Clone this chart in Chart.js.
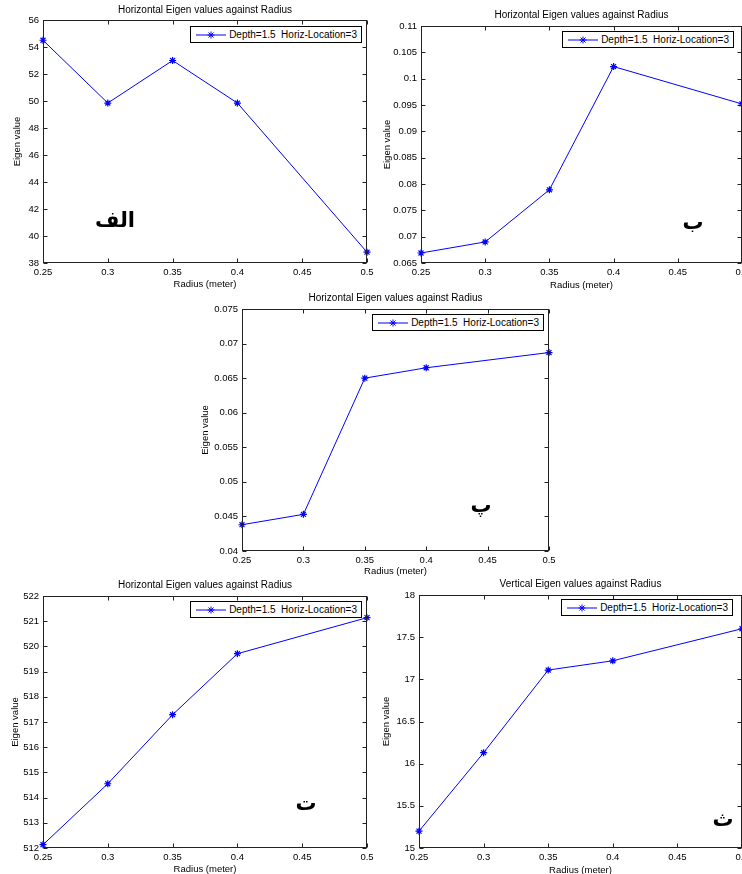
<!DOCTYPE html>
<html><head><meta charset="utf-8">
<script src="https://cdn.jsdelivr.net/npm/chart.js@4.4.1/dist/chart.umd.min.js"></script>
<style>
html,body{margin:0;padding:0;background:#fff;overflow:hidden;width:742px;height:874px;position:relative;}
canvas{position:absolute;}
.legend{position:absolute;height:17px;border:1px solid #000;background:#fff;display:flex;align-items:center;font:10px "Liberation Sans",Arial,sans-serif;white-space:pre;color:#000;box-sizing:border-box;padding-right:4px;}
.legend svg{margin-left:5px;margin-right:3px;}
.ar{position:absolute;font:bold 21px "DejaVu Sans",sans-serif;transform:translate(-50%,-50%);direction:rtl;color:#000;line-height:1;}
</style></head><body>
<script>
// ---- data ----
const radius = [0.25, 0.3, 0.35, 0.4, 0.5];
const xTicks = [0.25, 0.3, 0.35, 0.4, 0.45, 0.5];
const seriesLabel = 'Depth=1.5  Horiz-Location=3';
const xTitle = 'Radius (meter)';
const yTitle = 'Eigen value';
const titleH = 'Horizontal Eigen values against Radius';
const titleV = 'Vertical Eigen values against Radius';

const valuesAlef = [54.5, 49.85, 53.0, 49.85, 38.8];
const valuesBe   = [0.0669, 0.0690, 0.0789, 0.1023, 0.0952];
const valuesPe   = [0.0438, 0.0453, 0.0650, 0.0665, 0.0687];
const valuesTe   = [512.13, 514.55, 517.29, 519.71, 521.14];
const valuesSe   = [15.2, 16.13, 17.11, 17.22, 17.6];

const yTicksAlef = [38, 40, 42, 44, 46, 48, 50, 52, 54, 56];
const yTicksBe   = [0.065, 0.07, 0.075, 0.08, 0.085, 0.09, 0.095, 0.1, 0.105, 0.11];
const yTicksPe   = [0.04, 0.045, 0.05, 0.055, 0.06, 0.065, 0.07, 0.075];
const yTicksTe   = [512, 513, 514, 515, 516, 517, 518, 519, 520, 521, 522];
const yTicksSe   = [15, 15.5, 16, 16.5, 17, 17.5, 18];

const panelLetters = ['الف', 'ب', 'پ', 'ت', 'ث'];

// ---- layout (positions/styles) ----
const FONT = '"Liberation Sans", Arial, sans-serif';
const panels = [
  {values: valuesAlef, yTicks: yTicksAlef, title: titleH, letter: panelLetters[0],
   cx:0, cy:0, cw:380, ch:292, L:43, T:20, R:367, B:263, titleY:10, xTitleY:284, yTitleX:17,
   leg:{right:362, top:26}, let:{x:115, y:220}},
  {values: valuesBe, yTicks: yTicksBe, title: titleH, letter: panelLetters[1],
   cx:375, cy:0, cw:380, ch:292, L:421, T:26, R:742, B:263, titleY:15.5, xTitleY:285, yTitleX:387,
   leg:{right:734, top:31}, let:{x:693, y:222}},
  {values: valuesPe, yTicks: yTicksPe, title: titleH, letter: panelLetters[2],
   cx:190, cy:290, cw:372, ch:290, L:242, T:309, R:549, B:551, titleY:298.5, xTitleY:571, yTitleX:205,
   leg:{right:544, top:314}, let:{x:481, y:505}},
  {values: valuesTe, yTicks: yTicksTe, title: titleH, letter: panelLetters[3],
   cx:0, cy:575, cw:380, ch:299, L:43, T:596, R:367, B:848, titleY:585, xTitleY:869, yTitleX:15,
   leg:{right:362, top:601}, let:{x:306, y:803}},
  {values: valuesSe, yTicks: yTicksSe, title: titleV, letter: panelLetters[4],
   cx:375, cy:575, cw:380, ch:299, L:419, T:595, R:742, B:848, titleY:584.5, xTitleY:870, yTitleX:386,
   leg:{right:733, top:599}, let:{x:723, y:819}}
];

const boxPlugin = {
  id: 'matlabBox',
  afterDraw(chart) {
    const {ctx, chartArea: a, scales} = chart;
    ctx.save();
    ctx.strokeStyle = '#222';
    ctx.lineWidth = 1;
    const l = Math.round(a.left) + 0.5, r = Math.round(a.right) - 0.5;
    const t = Math.round(a.top) + 0.5, b = Math.round(a.bottom) - 0.5;
    ctx.strokeRect(l, t, r - l, b - t);
    const tl = 4;
    ctx.beginPath();
    scales.x.ticks.forEach(tk => {
      const px = Math.round(scales.x.getPixelForValue(tk.value)) + 0.5;
      ctx.moveTo(px, b); ctx.lineTo(px, b - tl);
      ctx.moveTo(px, t); ctx.lineTo(px, t + tl);
    });
    scales.y.ticks.forEach(tk => {
      const py = Math.round(scales.y.getPixelForValue(tk.value)) + 0.5;
      ctx.moveTo(l, py); ctx.lineTo(l + tl, py);
      ctx.moveTo(r, py); ctx.lineTo(r - tl, py);
    });
    ctx.stroke();
    ctx.restore();
  }
};

function legendSVG() {
  return '<svg width="30" height="10" viewBox="0 0 30 10">' +
    '<line x1="0" y1="5" x2="30" y2="5" stroke="#0000ff" stroke-width="1"/>' +
    '<g stroke="#0000ff" stroke-width="1">' +
    '<line x1="15" y1="1.5" x2="15" y2="8.5"/><line x1="11.5" y1="5" x2="18.5" y2="5"/>' +
    '<line x1="12.5" y1="2.5" x2="17.5" y2="7.5"/><line x1="12.5" y1="7.5" x2="17.5" y2="2.5"/></g></svg>';
}

panels.forEach(p => {
  const c = document.createElement('canvas');
  c.width = p.cw; c.height = p.ch;
  c.style.left = p.cx + 'px'; c.style.top = p.cy + 'px';
  c.style.width = p.cw + 'px'; c.style.height = p.ch + 'px';
  document.body.appendChild(c);

  const tSize = 10, tLH = tSize * 1.2;
  const aSize = 9.5, aLH = aSize * 1.2;
  const tickFont = {family: FONT, size: 9.5};

  new Chart(c, {
    type: 'line',
    data: {
      datasets: [{
        label: seriesLabel,
        data: radius.map((x, i) => ({x: x, y: p.values[i]})),
        borderColor: '#0000ff', backgroundColor: '#0000ff',
        borderWidth: 1, tension: 0, fill: false, clip: false,
        pointStyle: 'star', pointRadius: 3.5, pointBorderWidth: 1.2,
        pointBorderColor: '#0000ff', pointBackgroundColor: '#0000ff'
      }]
    },
    options: {
      responsive: false, animation: false, devicePixelRatio: 1,
      events: [],
      layout: {padding: {left: 0, top: 0, right: p.cx + p.cw - p.R, bottom: 0}},
      plugins: {
        legend: {display: false},
        tooltip: {enabled: false},
        title: {display: false}
      },
      scales: {
        x: {
          type: 'linear', min: xTicks[0], max: xTicks[xTicks.length - 1],
          grid: {display: false, drawTicks: false}, border: {display: false},
          ticks: {color: '#000', font: tickFont, padding: 4, maxRotation: 0, autoSkip: false,
            callback: v => String(v)},
          title: {display: true, text: xTitle, color: '#000',
            font: {family: FONT, size: aSize, lineHeight: 1.2},
            padding: {top: 0, bottom: p.cy + p.ch - p.xTitleY - aLH / 2}},
          afterBuildTicks: s => { s.ticks = xTicks.map(v => ({value: v})); },
          afterFit: s => { s.height = p.cy + p.ch - p.B; s.paddingLeft = 0; s.paddingRight = 0; }
        },
        xTop: {
          type: 'linear', position: 'top', min: xTicks[0], max: xTicks[xTicks.length - 1],
          grid: {display: false, drawTicks: false}, border: {display: false},
          ticks: {display: false},
          title: {display: true, text: p.title, color: '#000',
            font: {family: FONT, size: tSize, lineHeight: 1.2},
            padding: {top: p.titleY - p.cy - tLH / 2, bottom: 0}},
          afterFit: s => { s.height = p.T - p.cy; s.paddingLeft = 0; s.paddingRight = 0; }
        },
        y: {
          type: 'linear', min: p.yTicks[0], max: p.yTicks[p.yTicks.length - 1],
          grid: {display: false, drawTicks: false}, border: {display: false},
          ticks: {color: '#000', font: tickFont, padding: 4, autoSkip: false,
            callback: v => String(v)},
          title: {display: true, text: yTitle, color: '#000',
            font: {family: FONT, size: aSize, lineHeight: 1.2},
            padding: {top: p.yTitleX - p.cx - aLH / 2, bottom: 0}},
          afterBuildTicks: s => { s.ticks = p.yTicks.map(v => ({value: v})); },
          afterFit: s => { s.width = p.L - p.cx; s.paddingTop = 0; s.paddingBottom = 0; }
        }
      }
    },
    plugins: [boxPlugin]
  });

  const lg = document.createElement('div');
  lg.className = 'legend';
  lg.style.right = (742 - p.leg.right) + 'px';
  lg.style.top = p.leg.top + 'px';
  lg.innerHTML = legendSVG() + '<span></span>';
  lg.querySelector('span').textContent = seriesLabel;
  document.body.appendChild(lg);

  const ar = document.createElement('div');
  ar.className = 'ar';
  ar.style.left = p.let.x + 'px';
  ar.style.top = p.let.y + 'px';
  ar.textContent = p.letter;
  document.body.appendChild(ar);
});
</script>
</body></html>
